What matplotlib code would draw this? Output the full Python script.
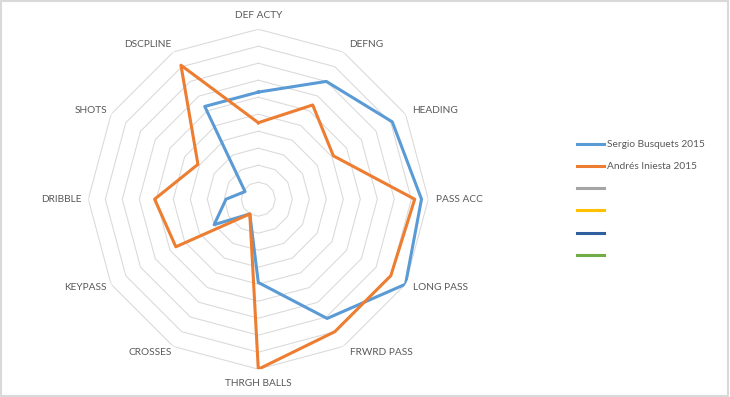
"""Radar chart comparing Busquets and Iniesta 2015 ratings (Excel style)."""

import numpy as np
import matplotlib
matplotlib.use('Agg')
import matplotlib.pyplot as plt
from matplotlib.lines import Line2D
from matplotlib.patches import Rectangle

# Data
categories = ['DEF ACTY', 'DEFNG', 'HEADING', 'PASS ACC', 'LONG PASS', 'FRWRD PASS',
              'THRGH BALLS', 'CROSSES', 'KEYPASS', 'DRIBBLE', 'SHOTS', 'DSCPLINE']
busquets = [6.3, 8.0, 9.1, 9.6, 10.0, 8.1, 4.9, 1.0, 3.0, 1.9, 0.9, 6.3]
iniesta = [4.5, 6.4, 5.1, 9.2, 9.0, 9.0, 10.0, 1.0, 5.6, 6.1, 4.1, 9.1]
series_names = ['Sergio Busquets 2015', 'Andrés Iniesta 2015', '', '', '', '']
series_colors = ['#5B9BD5', '#ED7D31', '#A5A5A5', '#FFC000', '#2F5F9E', '#70AD47']
rings = np.arange(1, 11)

# label offsets (px) from the outer vertex, and alignment
label_offsets = [(0, 14), (6, 7), (7, 4), (8, 0), (7, -3), (7, -6),
                 (0, -14), (-1, -6), (-4, -3), (-7, 0), (-4, 4), (-2, 7)]
label_ha = ['center', 'left', 'left', 'left', 'left', 'left',
            'center', 'right', 'right', 'right', 'right', 'right']

plt.rcParams['font.family'] = ['Lato', 'DejaVu Sans']

fig = plt.figure(figsize=(7.3, 3.97), dpi=100)
fig.patches.append(Rectangle((0.001, 0.002), 0.996, 0.996, transform=fig.transFigure,
                             fill=False, edgecolor='#D9D9D9', linewidth=1.5))

ax = fig.add_axes([88.3 / 730, 27.8 / 397, 340 / 730, 340 / 397], projection='polar')
ax.set_theta_offset(np.pi / 2)
ax.set_theta_direction(-1)
ax.set_ylim(0, 10)
ax.axis('off')

n = len(categories)
theta = np.arange(n) * 2 * np.pi / n
theta_closed = np.append(theta, theta[0])

# polygon grid (no spokes, like the excel chart)
for r in rings:
    ax.plot(theta_closed, [r] * (n + 1), color='#D9D9D9', linewidth=0.75, zorder=1)

ax.plot(theta_closed, busquets + busquets[:1], color=series_colors[0], linewidth=2.2, zorder=3)
ax.plot(theta_closed, iniesta + iniesta[:1], color=series_colors[1], linewidth=2.2, zorder=4)

for t, lab, off, ha in zip(theta, categories, label_offsets, label_ha):
    ax.annotate(lab, xy=(t, 10), xytext=(off[0] * 0.72, off[1] * 0.72),
                textcoords='offset points', ha=ha, va='center',
                fontsize=7.3, color='#595959', annotation_clip=False)

handles = [Line2D([], [], color=c, linewidth=2.2) for c in series_colors]
fig.legend(handles, series_names, loc='upper left', bbox_to_anchor=(573 / 730, 1 - 136 / 397),
           frameon=False, fontsize=7.3, labelcolor='#595959', handlelength=2.7,
           handletextpad=0.3, labelspacing=1.3, borderaxespad=0)

fig.savefig('out.png', dpi=100)
